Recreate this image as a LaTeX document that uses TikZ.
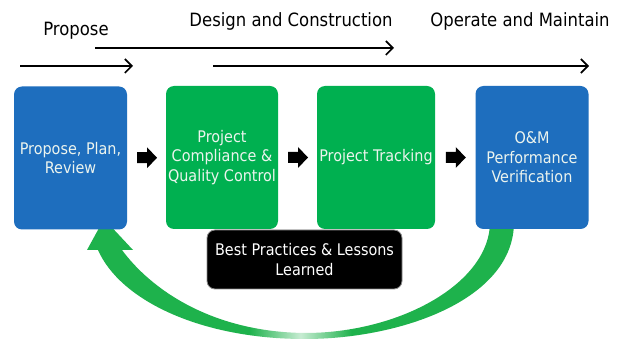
\documentclass[tikz,border=0pt]{standalone}
\usepackage{fontspec}
\setmainfont{DejaVu Sans Condensed}
\usetikzlibrary{arrows.meta,calc}
\definecolor{boxblue}{RGB}{30,110,190}
\definecolor{boxgreen}{RGB}{0,176,80}
\definecolor{arrgreen}{RGB}{30,178,76}
\definecolor{softwhite}{RGB}{236,244,238}
\pgfdeclarehorizontalshading{arrowshade}{100bp}{color(0bp)=(arrgreen); color(25bp)=(arrgreen); color(44bp)=(arrgreen); color(50bp)=(arrgreen!25); color(56bp)=(arrgreen); color(75bp)=(arrgreen); color(100bp)=(arrgreen)}
\begin{document}
\begin{tikzpicture}[x=1pt,y=-1pt,
  stage/.style={rounded corners=8pt, minimum width=#1, minimum height=143pt, inner sep=1pt,
     text=softwhite, font=\fontsize{16}{19.5}\selectfont, align=center},
  bluebox/.style={stage=113pt, fill=boxblue},
  greenbox/.style={stage=#1, fill=boxgreen},
  phase/.style={font=\fontsize{18.3}{22}\selectfont, text=black},
  timeline/.style={line width=1.6pt, -{Straight Barb[length=7pt,width=14pt,line width=1.6pt]}}]
\useasboundingbox (0,0) rectangle (622,339);
\fill[white] (0,0) rectangle (622,339);

% phase labels
\node[phase] (lp) at (76,31) {Propose};
\node[phase] (ld) at (291,21) {Design and Construction};
\node[phase] (lo) at (520,21) {Operate and Maintain};

% timeline arrows
\coordinate (a1s) at (20,66);  \coordinate (a1e) at (133,66);
\coordinate (a2s) at (95,48);  \coordinate (a2e) at (394,48);
\coordinate (a3s) at (213,66); \coordinate (a3e) at (589,66);
\draw[timeline] (a1s) -- (a1e);
\draw[timeline] (a2s) -- (a2e);
\draw[timeline] (a3s) -- (a3e);

% green return arrow
\shade[shading=arrowshade]
  (514,222) .. controls (514,300) and (400,339) .. (305,339)
  .. controls (200,339) and (120,300) .. (98,250)
  -- (87,250) -- (104,219) -- (133,250) -- (122,250)
  .. controls (150,288) and (210,332) .. (305,333)
  .. controls (400,333) and (490,283) .. (490,222) -- cycle;

% stage boxes
\node[bluebox] (b1) at (70.5,158) {Propose, Plan,\\Review};
\node[greenbox=112pt] (b2) at (222,157.5) {Project\\Compliance \&\\Quality Control};
\node[greenbox=118pt] (b3) at (376,157.5) {Project Tracking};
\node[bluebox] (b4) at (532,157.5) {O\&M\\Performance\\Verification};

% lessons box
\node[rounded corners=8pt, fill=black, draw=black!45, line width=0.8pt,
      minimum width=195pt, minimum height=59pt, text=white, align=center,
      font=\fontsize{16}{19.5}\selectfont] (bp) at (304.5,259.5) {Best Practices \& Lessons\\Learned};

% block arrows between boxes
\coordinate (k1) at ($(b1.east)!0.5!(b2.west)$);
\coordinate (k2) at ($(b2.east)!0.5!(b3.west)$);
\coordinate (k3) at ($(b3.east)!0.5!(b4.west)$);
\foreach \k in {k1,k2,k3}{
  \fill[black,shift={(\k)}] (-9.5,-5.5) -- (0.5,-5.5) -- (0.5,-10.5) -- (10.5,0)
     -- (0.5,10.5) -- (0.5,5.5) -- (-9.5,5.5) -- cycle;
}
\end{tikzpicture}
\end{document}
